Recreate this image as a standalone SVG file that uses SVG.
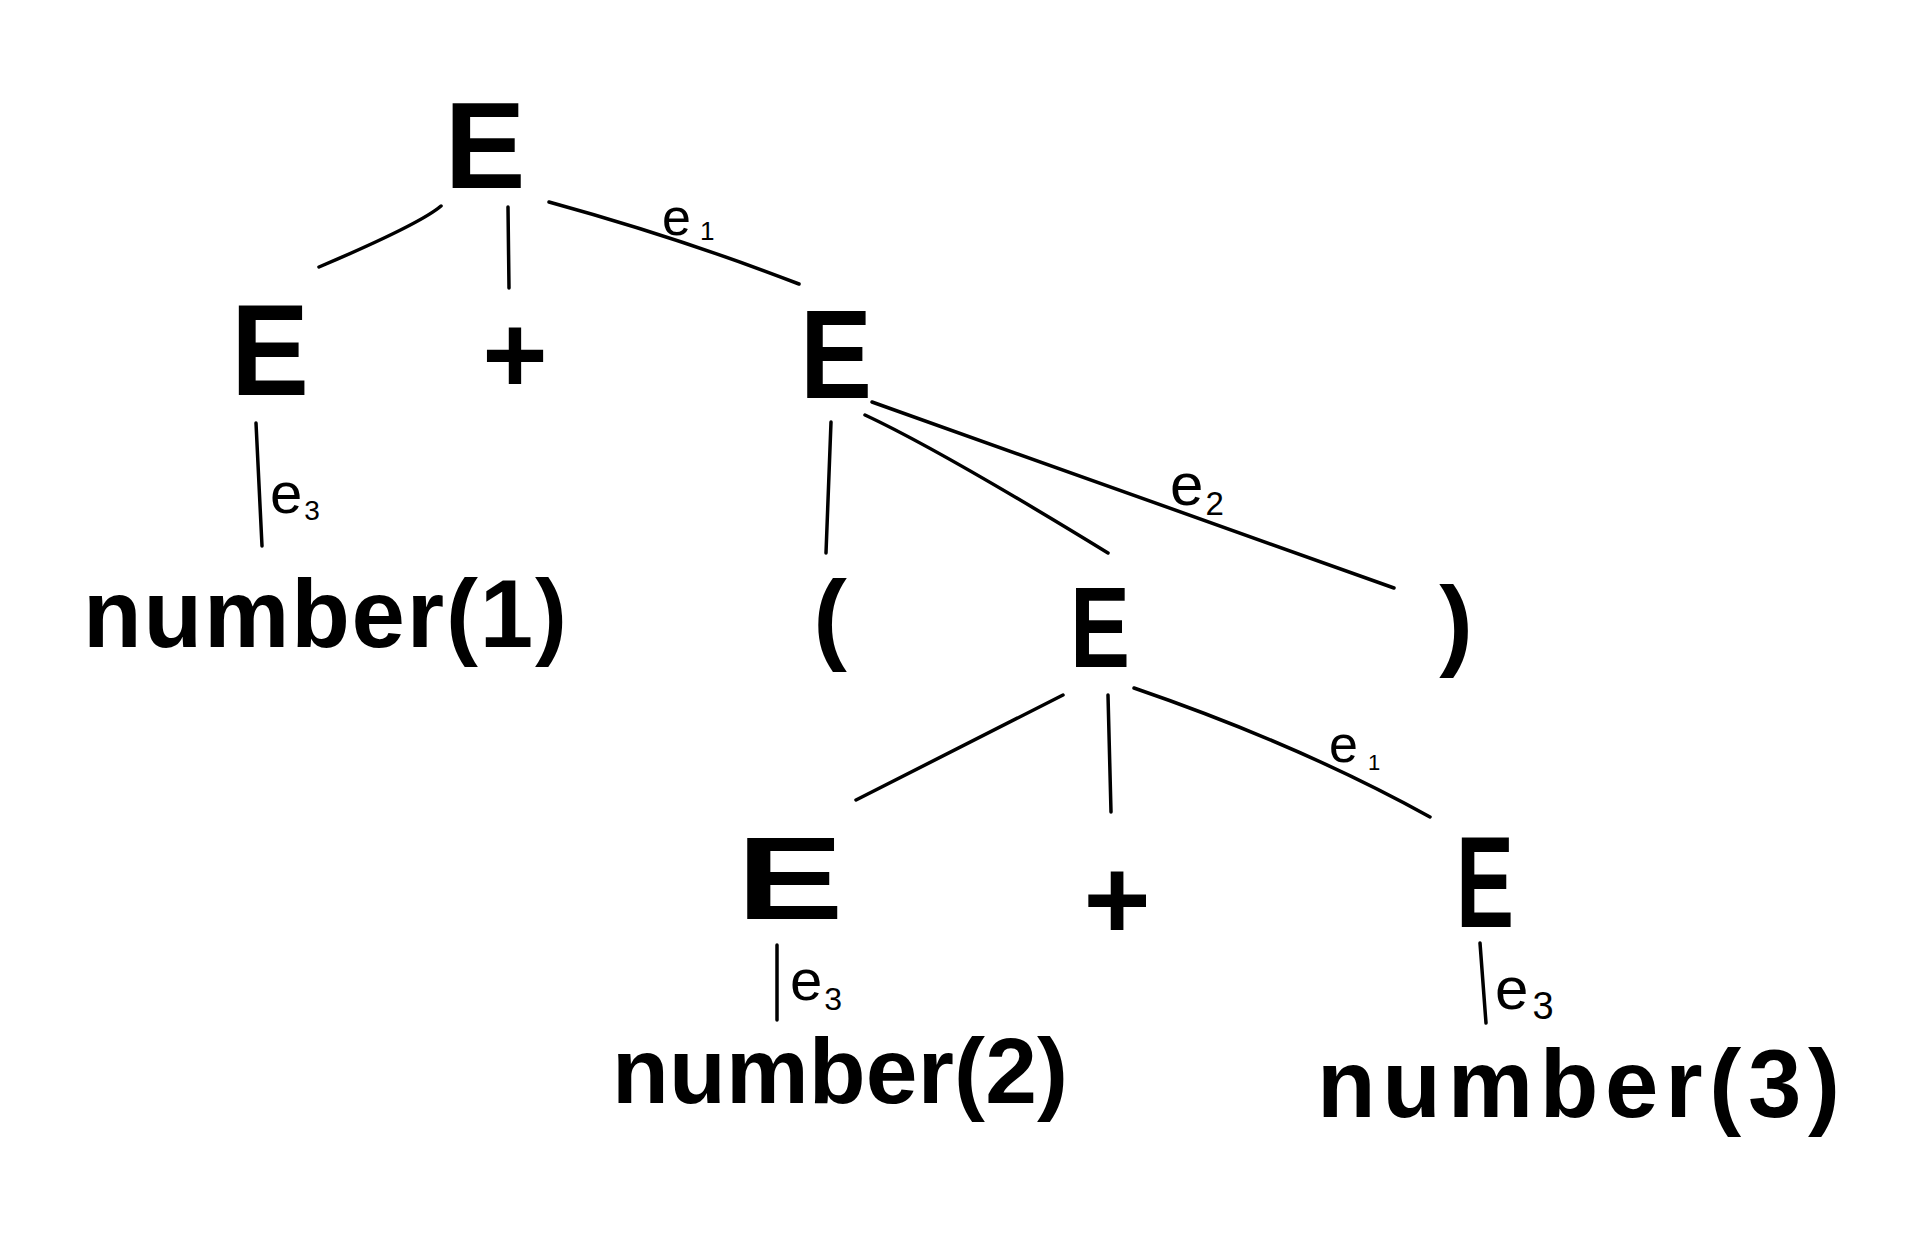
<svg xmlns="http://www.w3.org/2000/svg" width="1920" height="1256" viewBox="0 0 1920 1256">
<style>
.bg{fill:#ffffff}
.sym{font-family:"Liberation Sans",Arial,sans-serif;font-weight:bold;fill:#000;text-anchor:middle}
.num{font-family:"Liberation Sans",Arial,sans-serif;font-weight:bold;fill:#000}
.lab{font-family:"Liberation Sans",Arial,sans-serif;font-weight:normal;fill:#000}
.edge{fill:none;stroke:#000;stroke-width:3.5;stroke-linecap:round;stroke-linejoin:round}
</style>
<rect class="bg" x="0" y="0" width="1920" height="1256"/>
<g id="connectors">
  <path class="edge" d="M441,206 Q420,224 319,267"/>
  <path class="edge" d="M508,207 L509,288"/>
  <path class="edge" d="M549,202 Q680,238 799,284"/>
  <path class="edge" d="M256,423 L262,546"/>
  <path class="edge" d="M831,422 L826,553"/>
  <path class="edge" d="M865,415 Q940,450 1108,553"/>
  <path class="edge" d="M872,402 L1394,588"/>
  <path class="edge" d="M1063,695 L856,800"/>
  <path class="edge" d="M1108,695 L1111,812"/>
  <path class="edge" d="M1134,688 Q1300,745 1430,817"/>
  <path class="edge" d="M777,945 L777,1020"/>
  <path class="edge" d="M1480,943 L1486,1023"/>
  <g id="edge-labels">
    <text class="lab" x="662" y="235" font-size="52">e<tspan font-size="26" dx="9" dy="5">1</tspan></text>
    <text class="lab" x="270" y="513" font-size="58">e<tspan font-size="28" dx="2" dy="7">3</tspan></text>
    <text class="lab" x="1170" y="505" font-size="60">e<tspan font-size="33" dx="2" dy="10">2</tspan></text>
    <text class="lab" x="1329" y="762" font-size="52">e<tspan font-size="22" dx="10" dy="8">1</tspan></text>
    <text class="lab" x="790" y="1000" font-size="58">e<tspan font-size="32" dx="2" dy="10">3</tspan></text>
    <text class="lab" x="1495" y="1009" font-size="60">e<tspan font-size="38" dx="4" dy="10">3</tspan></text>
  </g>
</g>
<g id="node-root"><text class="sym" x="485" y="188" font-size="123" textLength="81" lengthAdjust="spacingAndGlyphs">E</text></g>
<g id="node-E-left"><text class="sym" x="270" y="395" font-size="130" textLength="78" lengthAdjust="spacingAndGlyphs">E</text></g>
<g id="node-plus-top"><text class="sym" x="515" y="393" font-size="112">+</text></g>
<g id="node-E-right"><text class="sym" x="836" y="398" font-size="126" textLength="72" lengthAdjust="spacingAndGlyphs">E</text></g>
<g id="node-number1"><text class="num" x="83" y="647" font-size="96" textLength="484">number(1)</text></g>
<g id="node-lparen"><text class="sym" x="830" y="651" font-size="101">(</text></g>
<g id="node-E-mid"><text class="sym" x="1100" y="667" font-size="115" textLength="60" lengthAdjust="spacingAndGlyphs">E</text></g>
<g id="node-rparen"><text class="sym" x="1456" y="657" font-size="101">)</text></g>
<g id="node-E-lowleft"><text class="sym" x="790" y="919" font-size="117" textLength="107" lengthAdjust="spacingAndGlyphs">E</text></g>
<g id="node-plus-low"><text class="sym" x="1117" y="939" font-size="115">+</text></g>
<g id="node-E-lowright"><text class="sym" x="1485" y="927" font-size="130" textLength="58" lengthAdjust="spacingAndGlyphs">E</text></g>
<g id="node-number2"><text class="num" x="612" y="1103" font-size="93" textLength="456">number(2)</text></g>
<g id="node-number3"><text class="num" x="1317" y="1117" font-size="96" textLength="523">number(3)</text></g>
</svg>
